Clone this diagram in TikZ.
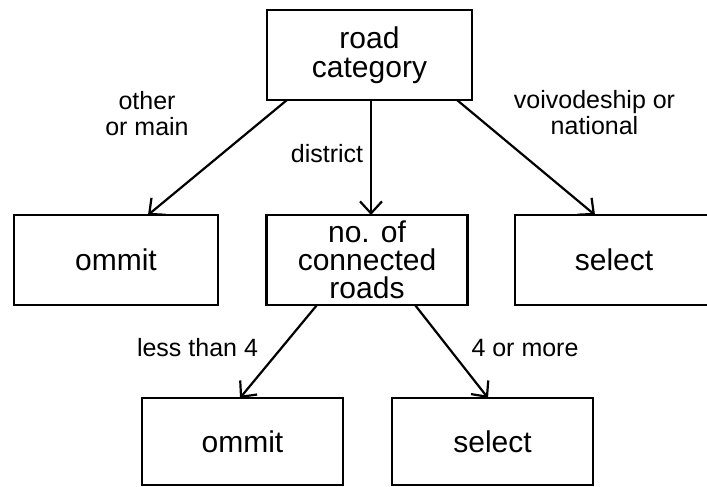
\documentclass[tikz,border=0pt]{standalone}
\usepackage{fontspec}
\setmainfont{Liberation Sans}
\usetikzlibrary{arrows.meta,positioning}
\tikzset{
  tree/.style={x=1pt,y=1pt,>={Straight Barb[length=12pt,width=22pt]}},
  box/.style={draw,line width=2.6pt,inner sep=0pt,outer sep=0pt,align=center,
    minimum width=201pt,minimum height=90pt,font=\fontsize{30}{29}\selectfont},
  lbl/.style={align=center,inner sep=0pt,font=\fontsize{25}{26}\selectfont},
  arr/.style={->,line width=2.2pt}}

\begin{document}
\begin{tikzpicture}[tree]
  \useasboundingbox (0,0) rectangle (707,487);
  \clip (0,0) rectangle (707,487);
  \node[box,minimum width=205pt] (cat) at (369.5,432) {road\\category};
  \node[box,minimum width=204pt] (omitA) at (116,227) {ommit};
  \node[box,font=\fontsize{30}{28}\selectfont] (conn) at (367,227)
    {no. of\\connected\\roads};
  \node[box,minimum width=210pt] (selA) at (620,227) {\hspace*{-12pt}select};
  \node[box,minimum height=87pt] (omitB) at (242.5,45.5) {ommit};
  \node[box,minimum height=87pt,right=49pt of omitB] (selB) {select};
  % edge labels
  \node[lbl,anchor=base] (lOther) at (147,351) {other\\or main};
  \node[lbl,anchor=base] (lDist) at (327,324) {district};
  \node[lbl,anchor=base] (lVoiv) at (594.5,352) {voivodeship or\\national};
  \node[lbl,anchor=base] (lLess) at (197.5,130) {less than 4};
  \node[lbl,anchor=base] (lMore) at (525,130) {4 or more};
  \draw[arr] ([xshift=-82.5pt]cat.south) -- ([xshift=32pt]omitA.north);
  \draw[arr] ([xshift=1.5pt]cat.south) -- ([xshift=4pt]conn.north);
  \draw[arr] ([xshift=87.5pt]cat.south) -- ([xshift=-25pt]selA.north);
  \draw[arr] ([xshift=-50pt]conn.south) -- ([xshift=-2.5pt]omitB.north);
  \draw[arr] ([xshift=48pt]conn.south) -- ([xshift=-4.5pt]selB.north);
\end{tikzpicture}
\end{document}
